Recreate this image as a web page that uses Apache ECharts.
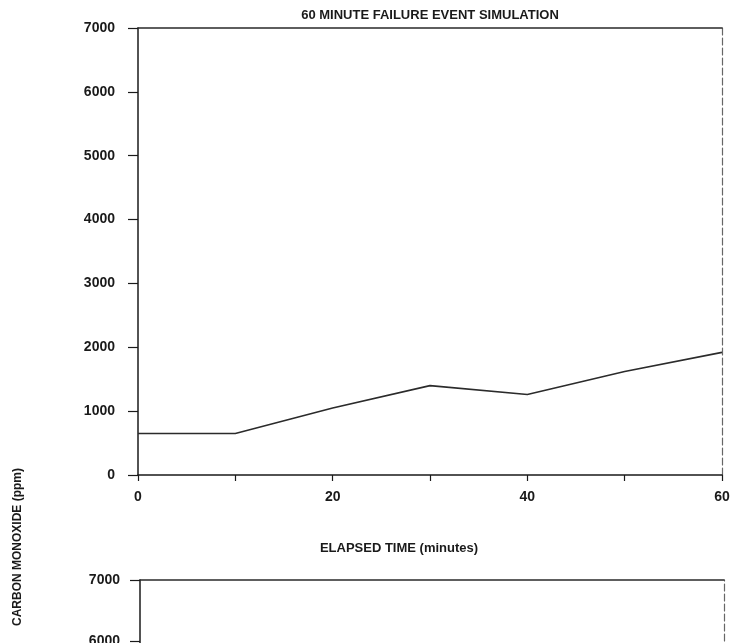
<!DOCTYPE html>
<html>
<head>
<meta charset="utf-8">
<title>60 Minute Failure Event Simulation</title>
<script src="https://cdn.jsdelivr.net/npm/echarts@6/dist/echarts.min.js"></script>
<style>
  html, body { margin: 0; padding: 0; background: #ffffff; overflow: hidden; }
  /* the lower panel runs past the bottom of the page, so the canvas is taller than the view */
  #chart { width: 741px; height: 1040px; }
</style>
</head>
<body>
<div id="chart"></div>
<script>
// Elapsed time (minutes) and carbon monoxide concentration (ppm)
const elapsedMinutes = [0, 10, 20, 30, 40, 50, 60];
const carbonMonoxidePpm = [650, 650, 1050, 1400, 1260, 1620, 1920];
// Lower panel: its curve lies below the visible area
const lowerPanelMinutes = [];
const lowerPanelPpm = [];

const xTicks = { min: 0, max: 60, interval: 10 };
const yTicks = { min: 0, max: 7000, interval: 1000 };

const FONT = 'Liberation Sans';
const INK = '#1a1a1a';

function pairs(xs, ys) {
  return xs.map((x, i) => [x, ys[i]]);
}

function mainXAxis(gridIndex) {
  return {
    type: 'value', gridIndex, position: 'bottom',
    min: xTicks.min, max: xTicks.max, interval: xTicks.interval,
    axisLine: { show: true, onZero: false, lineStyle: { color: INK, width: 1.5 } },
    axisTick: { show: true, length: 6, lineStyle: { color: INK, width: 1.2 } },
    axisLabel: {
      margin: 15, color: INK, fontFamily: FONT, fontWeight: 'bold', fontSize: 14,
      formatter: v => (v % 20 === 0 ? String(v) : '')
    },
    splitLine: { show: false }
  };
}

function topFrame(gridIndex) {
  return {
    type: 'value', gridIndex, position: 'top',
    min: xTicks.min, max: xTicks.max,
    axisLine: { show: true, onZero: false, lineStyle: { color: '#2a2a2a', width: 1.5 } },
    axisTick: { show: false }, axisLabel: { show: false }, splitLine: { show: false }
  };
}

function mainYAxis(gridIndex, margin) {
  return {
    type: 'value', gridIndex, position: 'left',
    min: yTicks.min, max: yTicks.max, interval: yTicks.interval,
    axisLine: { show: true, onZero: false, lineStyle: { color: INK, width: 1.5 } },
    axisTick: { show: true, length: 10, lineStyle: { color: INK, width: 1.2 } },
    axisLabel: {
      margin, color: INK, fontFamily: FONT, fontWeight: 'bold', fontSize: 14,
      formatter: v => String(v)
    },
    splitLine: { show: false }
  };
}

function rightFrame(gridIndex) {
  return {
    type: 'value', gridIndex, position: 'right',
    min: yTicks.min, max: yTicks.max,
    axisLine: { show: true, onZero: false, lineStyle: { color: '#666', width: 1.2, type: [7, 3] } },
    axisTick: { show: false }, axisLabel: { show: false }, splitLine: { show: false }
  };
}

const chart = echarts.init(document.getElementById('chart'), null, { renderer: 'canvas' });

chart.setOption({
  backgroundColor: '#ffffff',
  animation: false,
  grid: [
    { left: 138, right: 19, top: 28, height: 447 },
    { left: 140, right: 17, top: 580, height: 447 }
  ],
  xAxis: [
    mainXAxis(0), topFrame(0),
    mainXAxis(1), topFrame(1)
  ],
  yAxis: [
    mainYAxis(0, 23), rightFrame(0),
    mainYAxis(1, 20), rightFrame(1)
  ],
  series: [
    {
      type: 'line', xAxisIndex: 0, yAxisIndex: 0,
      data: pairs(elapsedMinutes, carbonMonoxidePpm),
      showSymbol: false, symbol: 'none',
      lineStyle: { color: '#2b2b2b', width: 1.6 }
    },
    {
      type: 'line', xAxisIndex: 2, yAxisIndex: 2,
      data: pairs(lowerPanelMinutes, lowerPanelPpm),
      showSymbol: false, symbol: 'none',
      lineStyle: { color: '#2b2b2b', width: 1.6 }
    }
  ],
  graphic: [
    {
      type: 'text',
      position: [430, 15],
      style: {
        text: '60 MINUTE FAILURE EVENT SIMULATION',
        x: 0, y: 0, align: 'center', verticalAlign: 'middle',
        fill: INK, font: 'bold 13px "' + FONT + '"'
      }
    },
    {
      type: 'text',
      position: [399, 548],
      style: {
        text: 'ELAPSED TIME (minutes)',
        x: 0, y: 0, align: 'center', verticalAlign: 'middle',
        fill: INK, font: 'bold 13px "' + FONT + '"'
      }
    },
    {
      type: 'text',
      position: [18, 547],
      rotation: Math.PI / 2,
      style: {
        text: 'CARBON MONOXIDE (ppm)',
        x: 0, y: 0, align: 'center', verticalAlign: 'middle',
        fill: INK, font: 'bold 12px "' + FONT + '"'
      }
    }
  ]
});
</script>
</body>
</html>
